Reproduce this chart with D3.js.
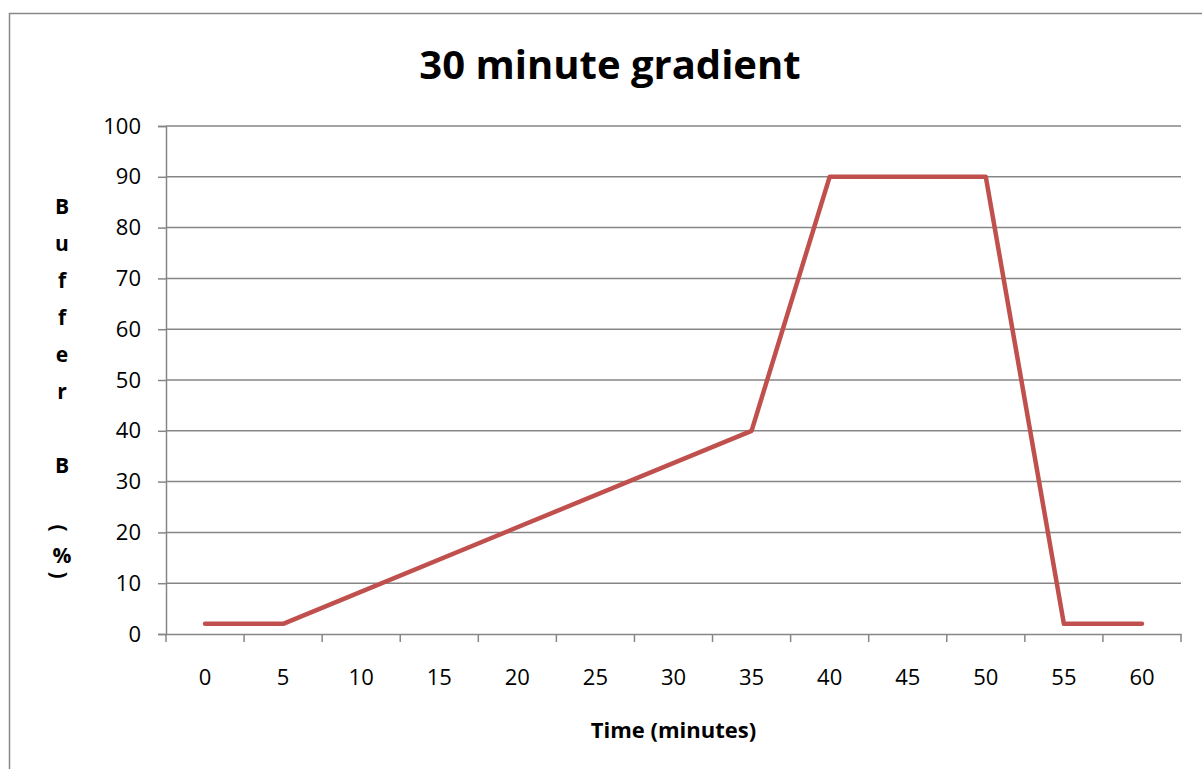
<!DOCTYPE html>
<html>
<head>
<meta charset="utf-8">
<script src="https://cdn.jsdelivr.net/npm/d3@7"></script>
<style>
  body { margin: 0; background: #fff; }
  svg { display: block; font-family: "Open Sans", sans-serif; }
  svg text { font-family: "Open Sans", sans-serif; }
</style>
</head>
<body>
<div id="graph"></div>
<script>
// chart data
const categories = ["0", "5", "10", "15", "20", "25", "30", "35", "40", "45", "50", "55", "60"];
const times = [0, 5, 35, 40, 50, 55, 60];
const bufferB = [2, 2, 40, 90, 90, 2, 2];
const yTicks = [0, 10, 20, 30, 40, 50, 60, 70, 80, 90, 100];

const W = 1202, H = 769;
const plotLeft = 166, plotRight = 1181, plotTop = 126, plotBottom = 634;

const svg = d3.select("#graph").append("svg")
    .attr("width", W)
    .attr("height", H);

// chart border (runs off the right and bottom)
svg.append("rect")
    .attr("x", 9.5).attr("y", 13.5)
    .attr("width", 1220).attr("height", 800)
    .attr("fill", "none")
    .attr("stroke", "#888")
    .attr("stroke-width", 1.5);

const x = d3.scaleBand().domain(categories).range([plotLeft, plotRight]).padding(0);
const y = d3.scaleLinear().domain([0, 100]).range([plotBottom, plotTop]);

// gridlines
svg.append("g").selectAll("line")
    .data(yTicks.filter(d => d > 0))
    .join("line")
    .attr("x1", plotLeft).attr("x2", plotRight)
    .attr("y1", d => y(d)).attr("y2", d => y(d))
    .attr("stroke", "#868686")
    .attr("stroke-width", 1.5);

// y axis
const yAxis = svg.append("g")
    .attr("transform", `translate(${plotLeft},0)`)
    .call(d3.axisLeft(y).tickValues(yTicks).tickSize(8).tickPadding(17).tickFormat(d3.format("d")));
yAxis.attr("font-family", null);
yAxis.select(".domain").attr("stroke", "#868686").attr("stroke-width", 1.5);
yAxis.selectAll(".tick line").attr("stroke", "#868686").attr("stroke-width", 1.5);
yAxis.selectAll(".tick text").attr("font-size", 22).attr("fill", "#000");

// x axis: ticks between categories, labels centered in each band
const xAxis = svg.append("g")
    .attr("transform", `translate(0,${plotBottom})`)
    .call(d3.axisBottom(x).tickSize(0).tickPadding(35));
xAxis.attr("font-family", null);
xAxis.select(".domain").attr("stroke", "#868686").attr("stroke-width", 1.5);
xAxis.selectAll(".tick text").attr("font-size", 22).attr("fill", "#000");

const edges = categories.map(c => x(c)).concat([x(categories[categories.length - 1]) + x.bandwidth()]);
svg.append("g").selectAll("line")
    .data(edges)
    .join("line")
    .attr("x1", d => d).attr("x2", d => d)
    .attr("y1", plotBottom).attr("y2", plotBottom + 8)
    .attr("stroke", "#868686")
    .attr("stroke-width", 1.5);

// the series
const pts = times.map((t, i) => ({ t: String(t), v: bufferB[i] }));
svg.append("path")
    .datum(pts)
    .attr("fill", "none")
    .attr("stroke", "#C0504D")
    .attr("stroke-width", 4.5)
    .attr("stroke-linejoin", "round")
    .attr("stroke-linecap", "round")
    .attr("d", d3.line()
        .x(d => x(d.t) + x.bandwidth() / 2)
        .y(d => y(d.v)));

// title
svg.append("text")
    .attr("x", 610).attr("y", 79)
    .attr("text-anchor", "middle")
    .attr("font-size", 40)
    .attr("font-weight", "bold")
    .text("30 minute gradient");

// x axis title
svg.append("text")
    .attr("x", (plotLeft + plotRight) / 2).attr("y", 738)
    .attr("text-anchor", "middle")
    .attr("font-size", 22)
    .attr("font-weight", "bold")
    .text("Time (minutes)");

// y axis title, stacked letters (parentheses turned sideways like Excel does)
const yLabel = ["B", "u", "f", "f", "e", "r", " ", "B", " ", "(", "%", ")"];
let cy = 207;
const yl = svg.append("g").attr("font-size", 21).attr("font-weight", "bold");
yLabel.forEach((ch) => {
    if (ch === "(" || ch === ")") {
        const py = ch === "(" ? 528 : 575;
        yl.append("g")
            .attr("transform", `translate(60,${py}) rotate(90)`)
            .append("text")
            .attr("text-anchor", "middle")
            .attr("dominant-baseline", "central")
            .text(ch);
    } else if (ch === "%") {
        yl.append("text").attr("x", 62).attr("y", 556).attr("dy", "0.35em")
            .attr("text-anchor", "middle").text(ch);
    } else {
        if (ch !== " ") {
            yl.append("text").attr("x", 62).attr("y", cy).attr("dy", "0.35em")
                .attr("text-anchor", "middle").text(ch);
        }
        cy += 37;
    }
});
</script>
</body>
</html>
